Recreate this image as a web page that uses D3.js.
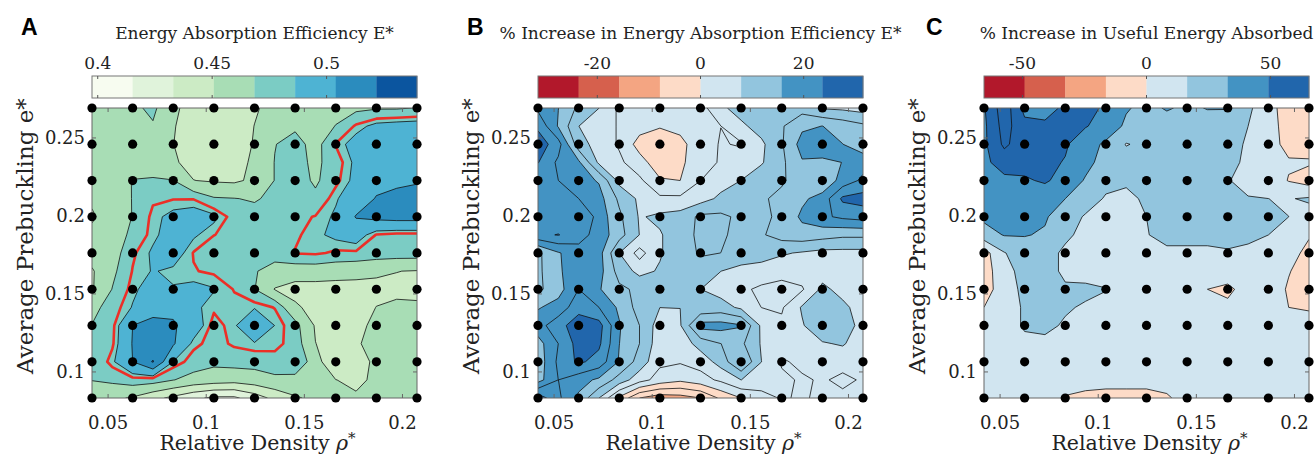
<!DOCTYPE html>
<html><head><meta charset="utf-8">
<script src="https://cdn.jsdelivr.net/npm/d3@7"></script>
<style>body{margin:0;background:#fff;} svg{display:block;}</style>
</head><body>
<svg id="chart" width="1314" height="456"></svg>
<script>
// ---------------- data ----------------
const rho = [0.0418,0.0522,0.0625,0.0729,0.0832,0.0936,0.1039,0.1143,0.1246,0.1350,0.1453,0.1557,0.1660,0.1764,0.1867,0.1971,0.2074];
const ePre = [0.2692,0.2576,0.2460,0.2343,0.2227,0.2111,0.1995,0.1879,0.1763,0.1646,0.1530,0.1414,0.1298,0.1182,0.1065,0.0949,0.0833];

// Panel A: energy absorption efficiency E* (rows top -> bottom)
const effA = [
[0.458,0.458,0.465,0.472,0.454,0.444,0.442,0.444,0.449,0.456,0.460,0.461,0.463,0.465,0.467,0.467,0.469],
[0.458,0.460,0.461,0.467,0.452,0.442,0.440,0.442,0.451,0.458,0.466,0.460,0.469,0.482,0.490,0.492,0.493],
[0.458,0.460,0.458,0.456,0.451,0.442,0.440,0.442,0.452,0.468,0.474,0.463,0.481,0.492,0.495,0.497,0.497],
[0.456,0.458,0.461,0.461,0.453,0.445,0.442,0.444,0.454,0.469,0.474,0.465,0.476,0.489,0.497,0.499,0.500],
[0.456,0.461,0.469,0.470,0.469,0.451,0.449,0.448,0.454,0.469,0.476,0.466,0.478,0.490,0.499,0.501,0.503],
[0.453,0.460,0.469,0.479,0.480,0.480,0.470,0.469,0.467,0.472,0.477,0.472,0.485,0.495,0.505,0.508,0.508],
[0.449,0.458,0.469,0.483,0.490,0.493,0.489,0.476,0.474,0.476,0.478,0.481,0.488,0.505,0.509,0.511,0.511],
[0.454,0.460,0.472,0.484,0.492,0.488,0.481,0.474,0.472,0.474,0.479,0.484,0.489,0.493,0.480,0.478,0.478],
[0.458,0.461,0.479,0.488,0.493,0.480,0.467,0.474,0.474,0.476,0.481,0.482,0.479,0.479,0.477,0.476,0.476],
[0.449,0.465,0.481,0.487,0.484,0.481,0.479,0.474,0.470,0.461,0.460,0.460,0.458,0.456,0.453,0.451,0.450],
[0.449,0.469,0.484,0.492,0.487,0.490,0.487,0.480,0.469,0.450,0.444,0.444,0.444,0.445,0.447,0.448,0.447],
[0.463,0.476,0.487,0.499,0.500,0.489,0.482,0.483,0.485,0.480,0.454,0.444,0.442,0.444,0.451,0.453,0.453],
[0.469,0.478,0.504,0.508,0.506,0.495,0.477,0.484,0.505,0.486,0.474,0.449,0.444,0.447,0.454,0.456,0.456],
[0.472,0.479,0.505,0.509,0.506,0.483,0.477,0.482,0.485,0.483,0.477,0.451,0.444,0.449,0.456,0.458,0.458],
[0.470,0.484,0.504,0.523,0.486,0.476,0.472,0.474,0.474,0.477,0.481,0.460,0.431,0.444,0.454,0.456,0.456],
[0.469,0.472,0.477,0.476,0.469,0.463,0.460,0.458,0.461,0.465,0.463,0.458,0.451,0.447,0.454,0.456,0.456],
[0.458,0.454,0.449,0.438,0.429,0.419,0.412,0.412,0.424,0.438,0.449,0.454,0.454,0.453,0.451,0.454,0.454]
];
// Panel B: % increase in energy absorption efficiency E*
const incB = [
[18.9,15.8,11.0,7.9,3.2,1.6,0.8,1.6,2.4,7.1,9.5,10.2,11.0,10.2,7.5,7.1,6.3],
[22.8,15.4,7.9,6.3,3.5,1.6,0.4,0.8,2.4,3.9,7.1,9.5,11.4,15.0,15.8,14.2,12.6],
[26.0,21.3,9.5,6.3,3.5,-1.6,-3.2,-0.8,1.6,4.3,3.5,7.1,11.4,17.3,18.1,15.8,13.4],
[23.8,18.9,16.5,7.1,4.7,1.6,-2.4,-0.8,2.4,4.3,6.3,7.5,11.0,15.4,15.0,15.8,18.1],
[20.5,19.7,17.3,15.4,6.7,4.7,0.4,0.0,3.9,6.3,7.9,10.2,11.4,13.4,12.6,17.3,20.5],
[21.3,22.8,19.7,17.3,11.0,7.1,4.7,4.7,6.3,8.7,10.2,11.4,12.6,15.0,17.3,24.4,25.2],
[20.5,20.5,24.0,18.1,12.6,7.5,8.7,9.5,12.6,12.6,11.0,11.0,12.6,16.5,18.9,20.5,21.3],
[22.8,23.8,21.3,18.1,13.4,7.8,7.5,10.2,12.6,12.6,10.2,11.4,13.4,14.2,13.4,12.6,12.6],
[11.0,15.4,18.1,17.3,7.9,2.4,7.5,10.2,12.2,11.8,10.2,9.5,8.3,7.5,6.7,6.7,6.7],
[11.0,15.0,18.9,17.3,10.2,6.7,8.3,9.5,10.2,7.9,6.7,6.3,5.5,5.9,6.3,6.3,6.3],
[11.0,14.2,19.7,16.1,12.6,11.0,10.2,9.5,7.9,6.3,4.7,3.2,2.4,3.5,8.7,6.7,5.9],
[15.4,17.3,22.1,19.7,15.0,10.2,7.9,7.9,8.7,9.5,7.1,3.9,3.5,8.3,10.2,8.7,6.3],
[18.1,22.1,26.0,25.2,16.1,11.8,5.9,7.5,17.3,17.3,16.1,7.1,4.7,7.5,11.0,10.2,6.3],
[14.2,19.7,25.2,24.4,15.8,11.8,5.5,5.5,9.5,11.8,12.6,7.5,5.5,7.1,7.5,8.3,5.5],
[13.4,20.5,24.4,22.1,15.4,10.2,4.7,4.3,5.5,9.5,16.1,7.9,3.5,4.7,5.5,5.1,4.7],
[14.2,19.7,17.3,15.0,10.2,5.5,2.4,0.8,2.4,4.7,7.9,6.3,4.7,3.5,4.3,3.2,4.3],
[26.0,20.5,15.0,7.9,-0.8,-7.9,-10.2,-9.5,-7.9,-3.2,0.0,2.4,4.3,3.5,4.7,4.7,4.7]
];
// Panel C: % increase in useful energy absorbed
const useC = [
[47.5,75.3,44.2,42.6,52.4,52.4,47.5,34.4,27.8,34.4,29.5,33.6,33.6,19.7,4.9,-6.6,-8.2],
[45.8,72.1,54.0,52.4,54.0,49.9,44.0,29.5,24.6,24.6,24.6,24.6,22.9,16.4,6.5,-6.6,-8.2],
[45.8,68.8,55.7,54.0,50.8,40.9,29.5,15.6,19.7,22.9,22.9,22.1,21.3,14.7,6.5,-4.9,-6.6],
[45.8,55.7,54.0,52.4,48.3,37.7,26.2,22.9,22.9,22.9,22.9,21.3,18.8,14.7,6.5,1.6,1.6],
[39.3,45.8,47.5,50.8,44.2,31.1,21.3,18.0,19.7,21.3,22.1,20.5,17.2,11.5,9.8,-0.8,-6.6],
[37.7,42.6,44.2,40.9,32.8,24.6,14.7,13.9,18.0,21.3,22.1,21.3,19.7,17.2,16.4,15.6,18.0],
[36.0,40.9,39.3,34.4,24.6,14.7,9.8,8.2,16.4,21.3,22.9,22.9,22.1,21.3,21.3,16.4,11.5],
[26.2,33.6,33.6,31.1,19.7,11.5,8.2,8.2,15.6,21.3,21.3,21.3,22.1,19.7,16.4,11.5,1.6],
[-6.6,15.6,24.6,22.9,13.1,9.8,8.2,9.8,15.6,13.1,13.1,13.1,14.7,13.1,11.5,6.5,-4.9],
[-8.2,11.5,21.3,21.3,13.9,9.8,6.5,6.5,8.2,8.2,9.8,8.2,8.2,8.2,8.2,0.8,-6.6],
[-8.2,9.8,19.7,21.3,18.0,19.7,17.2,8.2,6.5,6.5,6.5,0.0,-3.3,6.5,8.2,-1.6,-6.6],
[0.0,9.8,18.0,19.7,18.0,14.7,9.8,8.2,8.2,6.5,6.5,4.9,3.3,6.5,8.2,0.0,-1.6],
[6.5,9.8,18.0,19.7,14.7,9.8,8.2,9.8,16.9,8.2,8.2,8.2,6.5,8.2,8.2,8.2,6.5],
[6.5,9.8,13.1,13.1,11.5,9.8,8.2,8.2,9.8,8.2,8.2,8.2,8.2,8.2,8.2,8.2,6.5],
[6.5,8.2,9.8,9.8,8.2,8.2,8.2,8.2,8.2,8.2,8.2,8.2,8.2,8.2,8.2,8.2,6.5],
[6.5,6.5,6.5,6.5,4.9,4.9,4.9,4.9,4.9,4.9,6.5,6.5,6.5,6.5,6.5,6.5,6.5],
[6.5,6.5,4.9,3.3,-0.8,-3.3,-4.9,-4.9,-4.9,-1.6,4.9,6.5,6.5,6.5,6.5,6.5,6.5]
];

const rangeA = [0.3975, 0.5395];
const rangeB = [-31.5, 31.5];
const rangeC = [-65.5, 65.5];
const redLevelA = 0.4805;

const cbTicksA = [0.4, 0.45, 0.5];   const cbLabelsA = ["0.4", "0.45", "0.5"];
const cbTicksB = [-20, 0, 20];       const cbLabelsB = ["-20", "0", "20"];
const cbTicksC = [-50, 0, 50];       const cbLabelsC = ["-50", "0", "50"];
const xTicks = [0.05, 0.1, 0.15, 0.2];  const xLabels = ["0.05", "0.1", "0.15", "0.2"];
const yTicks = [0.1, 0.15, 0.2, 0.25];  const yLabels = ["0.1", "0.15", "0.2", "0.25"];

const titles = ["Energy Absorption Efficiency E*", "% Increase in Energy Absorption Efficiency E*", "% Increase in Useful Energy Absorbed"];
const letters = ["A", "B", "C"];

// ---------------- styles ----------------
const colorsA = ["#f7fcf0","#e0f3db","#ccebc5","#a8ddb5","#7bccc4","#4eb3d3","#2b8cbe","#0b559f"];
const colorsRB = ["#b2182b","#d6604d","#f4a582","#fddbc7","#d1e5f0","#92c5de","#4393c3","#2166ac"];
const SERIF = "'DejaVu Serif', serif";
const TEXT = "#222";

const svg = d3.select("#chart");
const PW = 325, TOP = 108, BOT = 398;

const panels = [
  {data: effA, range: rangeA, colors: colorsA, left: 92, letterX: 21, cbT: cbTicksA, cbL: cbLabelsA, lineDiv: 1, lineMaxK: 7, red: redLevelA},
  {data: incB, range: rangeB, colors: colorsRB, left: 538, letterX: 467, cbT: cbTicksB, cbL: cbLabelsB, lineDiv: 2, lineMaxK: 15, red: null},
  {data: useC, range: rangeC, colors: colorsRB, left: 984, letterX: 926, cbT: cbTicksC, cbL: cbLabelsC, lineDiv: 1, lineMaxK: 9, red: null}
];

panels.forEach((p, pi) => {
  const g = svg.append("g");
  const x = d3.scaleLinear().domain([rho[0], rho[rho.length-1]]).range([p.left, p.left + PW]);
  const y = d3.scaleLinear().domain([ePre[ePre.length-1], ePre[0]]).range([BOT, TOP]);
  const n = rho.length, m = ePre.length;
  const W = n + 2, H = m + 2;
  const vals = new Array(W * H);
  for (let j = 0; j < H; j++) for (let i = 0; i < W; i++) {
    const jj = Math.min(m - 1, Math.max(0, j - 1));
    const ii = Math.min(n - 1, Math.max(0, i - 1));
    vals[j * W + i] = p.data[jj][ii];
  }
  const gi = d3.scaleLinear().domain([1.5, n + 0.5]).range([x(rho[0]), x(rho[n-1])]);
  const gj = d3.scaleLinear().domain([1.5, m + 0.5]).range([y(ePre[0]), y(ePre[m-1])]);
  const proj = d3.geoTransform({point(px, py) { this.stream.point(gi(px), gj(py)); }});
  const path = d3.geoPath(proj);

  const lo = p.range[0], hi = p.range[1], step = (hi - lo) / 8;
  const clipId = "clip" + pi;
  svg.append("clipPath").attr("id", clipId).append("rect")
    .attr("x", p.left).attr("y", TOP).attr("width", PW).attr("height", BOT - TOP);
  const plot = g.append("g").attr("clip-path", `url(#${clipId})`);

  plot.append("rect").attr("x", p.left).attr("y", TOP).attr("width", PW).attr("height", BOT - TOP)
    .attr("fill", p.colors[0]);
  const fillT = d3.range(1, 8).map(k => lo + k * step);
  const fills = d3.contours().size([W, H]).thresholds(fillT)(vals);
  fills.forEach((c, k) => {
    plot.append("path").attr("d", path(c)).attr("fill", p.colors[k + 1]).attr("stroke", "none");
  });
  const lineT = d3.range(1, p.lineMaxK + 1).map(k => lo + k * step / p.lineDiv);
  const lines = d3.contours().size([W, H]).thresholds(lineT)(vals);
  lines.forEach(c => {
    plot.append("path").attr("d", path(c)).attr("fill", "none")
      .attr("stroke", "#111").attr("stroke-width", 0.8).attr("stroke-linejoin", "round");
  });
  if (p.red !== null) {
    const rc = d3.contours().size([W, H]).thresholds([p.red])(vals);
    plot.append("path").attr("d", path(rc[0])).attr("fill", "none")
      .attr("stroke", "#ec2f27").attr("stroke-width", 2.6).attr("stroke-linejoin", "round");
  }

  // frame + ticks
  g.append("rect").attr("x", p.left).attr("y", TOP).attr("width", PW).attr("height", BOT - TOP)
    .attr("fill", "none").attr("stroke", "#666").attr("stroke-width", 1);
  xTicks.forEach((t, k) => {
    const xx = x(t);
    g.append("line").attr("x1", xx).attr("x2", xx).attr("y1", BOT).attr("y2", BOT - 4).attr("stroke", "#666");
    g.append("line").attr("x1", xx).attr("x2", xx).attr("y1", TOP).attr("y2", TOP + 4).attr("stroke", "#666");
    g.append("text").attr("x", xx).attr("y", 429).attr("text-anchor", "middle")
      .attr("font-family", SERIF).attr("font-size", 18).attr("fill", TEXT).text(xLabels[k]);
  });
  yTicks.forEach((t, k) => {
    const yy = y(t);
    g.append("line").attr("x1", p.left).attr("x2", p.left + 4).attr("y1", yy).attr("y2", yy).attr("stroke", "#666");
    g.append("line").attr("x1", p.left + PW).attr("x2", p.left + PW - 4).attr("y1", yy).attr("y2", yy).attr("stroke", "#666");
    g.append("text").attr("x", p.left - 7).attr("y", yy + 6.5).attr("text-anchor", "end")
      .attr("font-family", SERIF).attr("font-size", 18).attr("fill", TEXT).text(yLabels[k]);
  });

  // dots
  for (let J = 0; J < m; J += 2) for (let I = 0; I < n; I += 2) {
    g.append("circle").attr("cx", x(rho[I])).attr("cy", y(ePre[J])).attr("r", 4.6).attr("fill", "#000");
  }

  // axis titles
  const xt = g.append("text").attr("x", p.left + PW / 2 + 3).attr("y", 450).attr("text-anchor", "middle")
    .attr("font-family", SERIF).attr("font-size", 20.5).attr("fill", TEXT);
  xt.append("tspan").text("Relative Density ");
  xt.append("tspan").attr("font-style", "italic").text("ρ");
  xt.append("tspan").attr("font-size", 15).attr("dy", -7).text("*");
  const ycx = p.left - 59, ycy = 236;
  g.append("text").attr("x", ycx).attr("y", ycy).attr("text-anchor", "middle")
    .attr("transform", `rotate(-90,${ycx},${ycy})`)
    .attr("font-family", SERIF).attr("font-size", 23).attr("fill", TEXT).text("Average Prebuckling e*");

  // colorbar
  const cb = d3.scaleLinear().domain(p.range).range([p.left, p.left + PW]);
  const CBY = 76, CBH = 22;
  p.colors.forEach((c, k) => {
    g.append("rect").attr("x", cb(lo + k * step)).attr("y", CBY)
      .attr("width", cb(lo + (k + 1) * step) - cb(lo + k * step) + 0.3).attr("height", CBH).attr("fill", c);
  });
  g.append("rect").attr("x", p.left).attr("y", CBY).attr("width", PW).attr("height", CBH)
    .attr("fill", "none").attr("stroke", "#777").attr("stroke-width", 1);
  p.cbT.forEach((t, k) => {
    const xx = cb(t);
    g.append("line").attr("x1", xx).attr("x2", xx).attr("y1", CBY).attr("y2", CBY + 3).attr("stroke", "#555");
    g.append("line").attr("x1", xx).attr("x2", xx).attr("y1", CBY + CBH).attr("y2", CBY + CBH - 3).attr("stroke", "#555");
    g.append("text").attr("x", xx).attr("y", 69).attr("text-anchor", "middle")
      .attr("font-family", SERIF).attr("font-size", 17).attr("fill", TEXT).text(p.cbL[k]);
  });
  g.append("text").attr("x", p.left + PW / 2).attr("y", 39).attr("text-anchor", "middle")
    .attr("font-family", SERIF).attr("font-size", 17).attr("fill", TEXT).text(titles[pi]);
  g.append("text").attr("x", p.letterX).attr("y", 35).attr("font-family", "'Liberation Sans', Arial, sans-serif")
    .attr("font-weight", "bold").attr("font-size", 23).attr("fill", "#000").text(letters[pi]);
});
</script>
</body></html>
